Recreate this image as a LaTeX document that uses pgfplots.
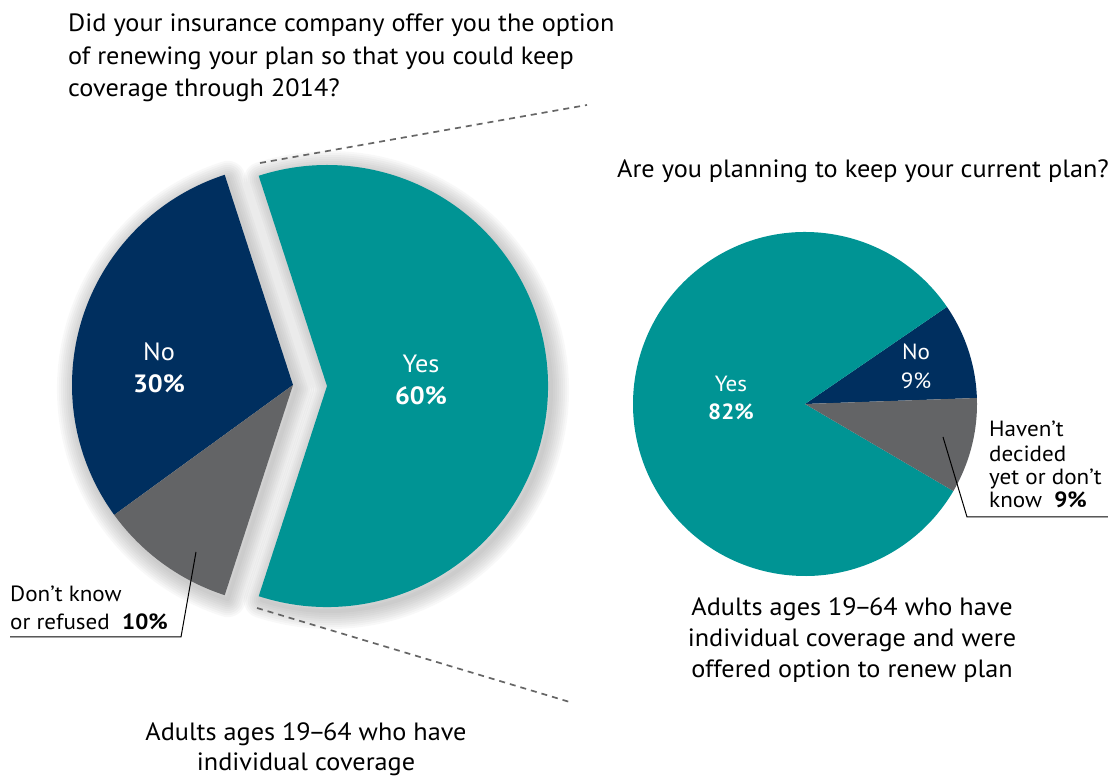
\documentclass[border=0pt]{standalone}
\usepackage{pgfplots}
\pgfplotsset{compat=1.18}
\usepackage{pgfplotstable}
\usepackage{fontspec}
\setmainfont{PT Sans}[FakeStretch=1.05]
\definecolor{cteal}{HTML}{009494}
\definecolor{cnavy}{HTML}{002F5F}
\definecolor{cgray}{HTML}{636466}
\definecolor{cdash}{HTML}{666666}
\newcommand\ndash{\kern-2.5pt–\kern-2.5pt}

\pgfplotstableread{
label value
Yes 60
No 30
DK 10
}\leftdata
\pgfplotstableread{
label value
Yes 82
No 9
DK 9
}\rightdata

\begin{document}
\begin{tikzpicture}
% read values
\pgfplotstablegetelem{0}{value}\of\leftdata \let\LYes\pgfplotsretval
\pgfplotstablegetelem{1}{value}\of\leftdata \let\LNo\pgfplotsretval
\pgfplotstablegetelem{2}{value}\of\leftdata \let\LDK\pgfplotsretval
\pgfplotstablegetelem{0}{value}\of\rightdata \let\RYes\pgfplotsretval
\pgfplotstablegetelem{1}{value}\of\rightdata \let\RNo\pgfplotsretval
\pgfplotstablegetelem{2}{value}\of\rightdata \let\RDK\pgfplotsretval
% left angles
\pgfmathsetmacro\aLYs{-\LYes*1.8}
\pgfmathsetmacro\aLYe{\aLYs+\LYes*3.6}
\pgfmathsetmacro\aLNe{\aLYe+\LNo*3.6}
\pgfmathsetmacro\aLDe{\aLNe+\LDK*3.6}
% right angles
\pgfmathsetmacro\aRNs{2}
\pgfmathsetmacro\aRNe{\aRNs+\RNo*3.6}
\pgfmathsetmacro\aRYe{\aRNe+\RYes*3.6}
\pgfmathsetmacro\aRDe{\aRYe+\RDK*3.6}
\begin{axis}[
  x=1pt, y=1pt,
  xmin=0, xmax=1108, ymin=0, ymax=776,
  hide axis, clip=false,
]
\coordinate (BL) at (axis cs:0,0);
\coordinate (TR) at (axis cs:1108,776);
% soft shadow of left pie
\pgfplotsinvokeforeach{4,8,12,16,20,24,28,32,36}{
  \draw[line width=#1pt, black!50, opacity=0.055, line join=round]
    (axis cs:330,386) -- ++(\aLYs:221pt) arc[start angle=\aLYs, end angle=\aLYe, radius=221pt] -- cycle;
  \draw[line width=#1pt, black!50, opacity=0.055, line join=round]
    (axis cs:296,387) -- ++(\aLYe:221pt) arc[start angle=\aLYe, end angle=\aLDe, radius=221pt] -- cycle;
}
% left pie
\fill[cteal] (axis cs:327,390) -- ++(\aLYs:221pt) arc[start angle=\aLYs, end angle=\aLYe, radius=221pt] -- cycle;
\fill[cnavy] (axis cs:293,391) -- ++(\aLYe:221pt) arc[start angle=\aLYe, end angle=\aLNe, radius=221pt] -- cycle;
\fill[cgray] (axis cs:293,391) -- ++(\aLNe:221pt) arc[start angle=\aLNe, end angle=\aLDe, radius=221pt] -- cycle;
% right pie
\fill[cnavy] (axis cs:805,372) -- ++(\aRNs:172pt) arc[start angle=\aRNs, end angle=\aRNe, radius=172pt] -- cycle;
\fill[cteal] (axis cs:805,372) -- ++(\aRNe:172pt) arc[start angle=\aRNe, end angle=\aRYe, radius=172pt] -- cycle;
\fill[cgray] (axis cs:805,372) -- ++(\aRYe:172pt) arc[start angle=\aRYe, end angle=\aRDe, radius=172pt] -- cycle;
% dashed connectors
\draw[cdash, line width=1.7pt, dash pattern=on 6pt off 5pt] (axis cs:260,613) -- (axis cs:587,671);
\draw[cdash, line width=1.7pt, dash pattern=on 6pt off 5pt] (axis cs:257,168) -- (axis cs:573,73);
% leader lines
\draw[black, line width=1pt] (axis cs:10,139) -- (axis cs:181,139) -- (axis cs:196,224);
\draw[black, line width=1pt] (axis cs:943,339) -- (axis cs:967,259) -- (axis cs:1108,259);
% titles
\begin{scope}[every node/.style={inner sep=0pt, font=\fontsize{25}{28}\selectfont}]
\node[anchor=base west] at (axis cs:68,744) {Did your insurance company offer you the option};
\node[anchor=base west] at (axis cs:68,711) {of renewing your plan so that you could keep};
\node[anchor=base west] at (axis cs:68,679) {coverage through 2014?};
\node[anchor=base west] at (axis cs:617,598) {Are you planning to keep your current plan?};
% bottom captions
\node[anchor=base] at (axis cs:306,35) {Adults ages 19\ndash 64 who have};
\node[anchor=base] at (axis cs:306,5) {individual coverage};
\node[anchor=base] at (axis cs:852,160) {Adults ages 19\ndash 64 who have};
\node[anchor=base] at (axis cs:852,129) {individual coverage and were};
\node[anchor=base] at (axis cs:852,98) {offered option to renew plan};
% left pie labels
\node[anchor=base, white] at (axis cs:159,415) {No};
\node[anchor=base, white] at (axis cs:159,383) {\bfseries 30\%};
\node[anchor=base, white] at (axis cs:421,403) {Yes};
\node[anchor=base, white] at (axis cs:421,371) {\bfseries 60\%};
\end{scope}
\begin{scope}[every node/.style={inner sep=0pt, font=\fontsize{22}{24}\selectfont}]
\node[anchor=base, white] at (axis cs:731,384) {Yes};
\node[anchor=base, white] at (axis cs:731,356) {\bfseries 82\%};
\node[anchor=base, white] at (axis cs:916,416) {No};
\node[anchor=base, white] at (axis cs:916,387) {9\%};
\node[anchor=base west] at (axis cs:10,174) {Don’t know};
\node[anchor=base west] at (axis cs:10,146) {or refused\ \ \textbf{10\%}};
\node[anchor=base west] at (axis cs:989,339) {Haven’t};
\node[anchor=base west] at (axis cs:989,314) {decided};
\node[anchor=base west] at (axis cs:989,291) {yet or don’t};
\node[anchor=base west] at (axis cs:989,268) {know\ \ \textbf{9\%}};
\end{scope}
\end{axis}
\pgfresetboundingbox
\path (BL) rectangle (TR);
\end{tikzpicture}
\end{document}
